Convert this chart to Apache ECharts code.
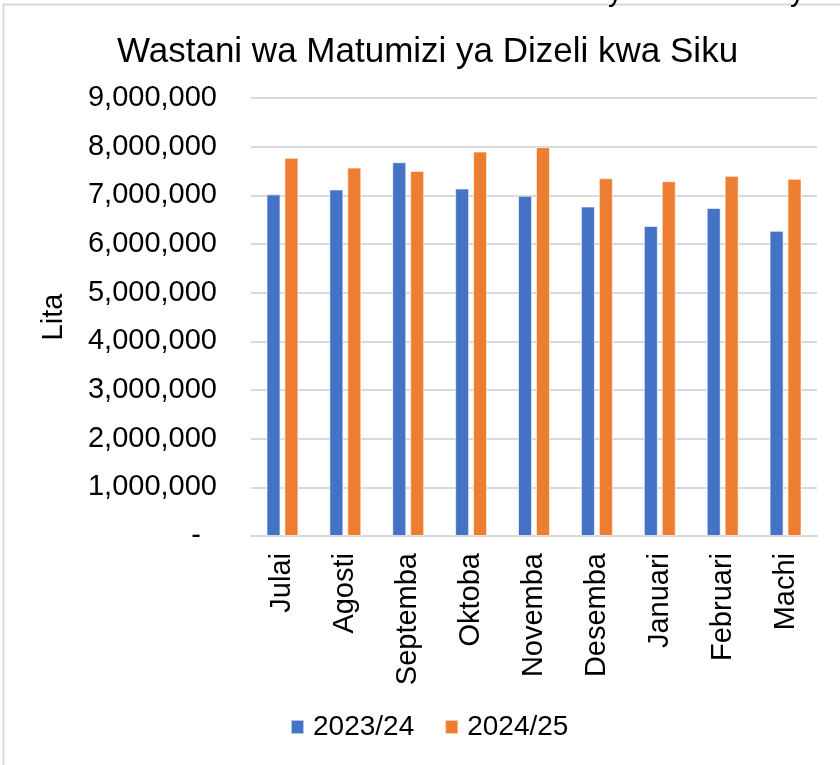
<!DOCTYPE html>
<html>
<head>
<meta charset="utf-8">
<script src="https://cdn.jsdelivr.net/npm/echarts@6/dist/echarts.min.js"></script>
<style>html,body{margin:0;padding:0;background:#fff}#c{width:840px;height:765px}</style>
</head>
<body>
<div id="c"></div>
<script>
const categories = ['Julai','Agosti','Septemba','Oktoba','Novemba','Desemba','Januari','Februari','Machi'];
const seriesNames = ['2023/24','2024/25'];
const values2023 = [7020000, 7120000, 7680000, 7140000, 6990000, 6770000, 6370000, 6740000, 6270000];
const values2024 = [7770000, 7570000, 7500000, 7900000, 7990000, 7350000, 7290000, 7400000, 7340000];
const yTicks = { min: 0, max: 9000000, interval: 1000000 };

const FONT = 'Arial, "Liberation Sans", sans-serif';
const chart = echarts.init(document.getElementById('c'), null, { renderer: 'canvas' });
function fmt(v) {
  if (v === 0) return '-  ';
  return String(v).replace(/\B(?=(\d{3})+(?!\d))/g, ',');
}
chart.setOption({
  animation: false,
  backgroundColor: '#fff',
  graphic: [
    { type: 'rect', shape: { x: 3.5, y: 4.5, width: 900, height: 900 }, style: { fill: 'none', stroke: '#d9d9d9', lineWidth: 2 }, silent: true },
    { type: 'text', left: 608, top: -22, style: { text: 'y', font: '29px ' + FONT, fill: '#000' } },
    { type: 'text', left: 790, top: -22, style: { text: 'y', font: '29px ' + FONT, fill: '#000' } }
  ],
  title: {
    text: 'Wastani wa Matumizi ya Dizeli kwa Siku',
    left: 112, top: 30,
    textStyle: { fontFamily: FONT, fontSize: 35, fontWeight: 'normal', color: '#000' }
  },
  legend: {
    data: seriesNames,
    left: 290, top: 713, padding: 0,
    itemWidth: 13, itemHeight: 14, itemGap: 30,
    icon: 'rect',
    textStyle: { fontFamily: FONT, fontSize: 28, color: '#000', padding: [0, 0, 0, 4] }
  },
  grid: { left: 251, right: 23, top: 98, bottom: 229, containLabel: false },
  xAxis: {
    type: 'category',
    data: categories,
    axisLine: { show: true, lineStyle: { color: '#d9d9d9', width: 2 } },
    axisTick: { show: false },
    axisLabel: { rotate: 90, margin: 17, fontFamily: FONT, fontSize: 29, color: '#000', interval: 0 }
  },
  yAxis: {
    type: 'value',
    min: yTicks.min, max: yTicks.max, interval: yTicks.interval,
    name: 'Lita',
    nameLocation: 'middle',
    nameGap: 183,
    nameRotate: 90,
    nameTextStyle: { fontFamily: FONT, fontSize: 29, color: '#000' },
    axisLine: { show: false },
    axisTick: { show: false },
    splitLine: { lineStyle: { color: '#d9d9d9', width: 2 } },
    axisLabel: { margin: 34, fontFamily: FONT, fontSize: 29, color: '#000', formatter: fmt }
  },
  series: [
    { name: seriesNames[0], type: 'bar', data: values2023, barWidth: 14, barGap: '28%',
      itemStyle: { color: '#4472C4', borderColor: 'rgba(255,255,255,0.6)', borderWidth: 1 } },
    { name: seriesNames[1], type: 'bar', data: values2024, barWidth: 14, barGap: '28%',
      itemStyle: { color: '#ED7D31', borderColor: 'rgba(255,255,255,0.6)', borderWidth: 1 } }
  ]
});
</script>
</body>
</html>
